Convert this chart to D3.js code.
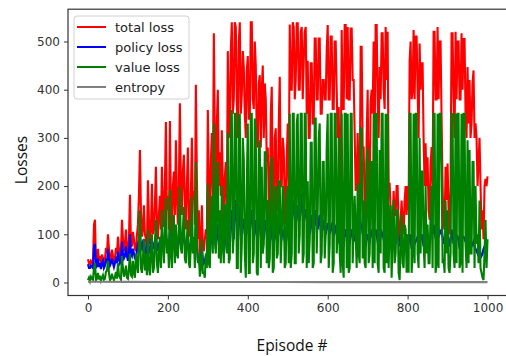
<!DOCTYPE html>
<html>
<head>
<meta charset="utf-8">
<script src="https://cdn.jsdelivr.net/npm/d3@7"></script>
<style>
  body { margin: 0; background: #fff; }
  #graph { position: relative; width: 506px; height: 356px; }
  .axis text { font-family: "DejaVu Sans", sans-serif; font-size: 12px; fill: #333; }
  .axis path, .axis line { stroke: #333; }
  .title { font-family: "Open Sans", "Noto Sans", sans-serif; font-size: 15.5px; fill: #111; }
  .legend text { font-family: "DejaVu Sans", sans-serif; font-size: 13px; fill: #222; }
</style>
</head>
<body>
<div id="graph"></div>
<script>
// one value every 2.5 episodes (about one pixel)
const STEP = 2.5;

const totalLoss = [
  48,40,38,45,42,35,120,130,40,45,70,45,55,35,58,50,42,48,72,60,
  100,70,45,50,68,55,42,50,72,60,95,70,55,60,130,90,65,80,110,70,
  60,90,182,80,75,105,90,70,65,98,120,180,275,150,95,110,160,100,90,70,
  212,130,80,110,205,100,110,160,240,120,90,140,180,110,240,170,115,200,333,150,
  180,110,335,160,95,200,230,140,295,180,120,200,372,200,140,230,265,170,110,200,
  280,130,95,180,300,170,190,120,410,220,90,150,50,80,160,70,65,90,110,100,
  358,200,95,250,310,180,517,300,140,330,400,200,270,180,316,200,105,219,250,150,
  480,300,330,480,540,350,380,540,530,380,300,500,540,350,390,480,447,350,300,440,
  470,340,340,540,540,380,360,500,450,300,280,413,430,280,400,450,300,413,380,250,
  280,175,120,350,406,180,110,300,320,150,150,330,427,200,200,300,275,160,120,260,
  330,200,535,400,400,540,530,380,420,538,538,400,400,520,530,380,460,520,530,350,
  460,300,300,455,455,330,330,506,506,380,380,506,506,350,350,420,420,380,380,482,
  534,380,380,510,510,360,360,500,500,400,300,364,200,200,524,360,360,534,534,380,
  530,380,380,527,527,420,420,310,190,205,310,200,160,489,489,280,280,150,110,300,
  400,171,150,375,400,350,500,300,534,534,380,300,447,380,517,517,400,360,530,420,
  520,205,205,150,80,120,190,140,140,200,200,110,80,130,170,120,100,170,200,140,
  200,150,460,500,380,400,524,380,510,510,400,300,496,400,455,455,300,200,289,200,
  260,150,130,240,281,200,520,520,380,380,530,380,500,500,340,200,120,110,240,171,
  247,150,100,200,517,517,380,300,520,380,500,500,380,380,517,400,505,505,350,300,
  447,330,420,300,330,413,440,300,330,300,200,250,300,200,110,150,90,200,215,200,
  220
];

const policyLoss = [
  38,30,30,35,35,28,75,80,30,35,50,32,40,28,40,45,30,35,45,40,
  70,50,35,40,50,40,32,40,48,40,65,50,40,45,85,60,50,55,75,55,
  45,60,100,60,55,70,60,50,50,65,80,90,100,75,70,85,90,70,60,55,
  95,70,60,75,90,70,75,85,100,75,65,80,85,70,100,90,70,85,105,80,
  80,70,110,85,60,80,95,80,105,85,70,90,110,80,75,95,100,80,65,85,
  95,70,60,80,100,75,80,65,110,80,45,55,35,40,70,50,40,45,55,60,
  110,80,60,90,100,80,130,95,70,100,120,85,95,80,110,90,60,80,100,85,
  120,90,75,110,150,120,90,140,171,130,80,120,160,120,100,130,130,100,109,120,
  120,100,100,130,150,120,90,110,130,100,85,110,140,120,157,130,90,110,130,110,
  100,80,70,100,130,90,80,100,110,90,90,110,120,100,95,110,100,85,80,95,
  110,120,160,130,120,150,170,140,115,150,160,130,130,160,185,140,120,150,150,130,
  120,110,100,120,140,110,90,130,150,120,110,130,140,110,95,120,130,110,100,115,
  123,110,100,115,120,105,95,110,115,100,100,90,80,100,120,95,74,100,110,95,
  120,100,80,100,110,95,100,90,85,100,109,130,150,120,120,100,110,90,75,90,
  100,90,85,100,110,95,95,100,110,100,85,90,100,95,105,100,90,95,100,95,
  120,100,90,80,70,85,100,90,80,95,110,90,75,85,95,85,70,80,100,90,
  90,85,100,90,70,80,90,80,85,90,95,85,80,90,100,90,75,90,110,95,
  100,90,85,95,110,100,120,110,90,100,120,110,100,105,110,95,80,90,95,90,
  100,90,75,85,110,100,80,90,100,90,95,90,70,85,105,95,95,90,85,90,
  110,95,90,80,75,80,85,75,70,65,60,65,65,60,55,60,70,75,80,80,
  80
];

const valueLoss = [
  5,10,3,12,8,6,30,40,5,8,20,6,14,4,10,15,6,8,22,25,
  45,20,5,8,18,10,5,12,22,8,40,15,10,6,55,30,12,20,35,10,
  8,30,60,15,12,45,20,10,60,40,20,90,150,30,20,50,90,25,60,15,
  110,30,15,60,100,20,30,80,130,40,20,60,95,30,150,80,40,100,175,60,
  90,30,192,60,30,100,140,40,120,60,50,120,198,70,60,110,157,50,40,90,
  130,40,30,80,178,60,95,30,250,90,40,60,12,30,90,20,20,10,60,30,
  205,40,30,120,180,60,330,90,60,200,250,50,150,40,200,80,40,160,160,60,
  310,40,50,330,358,60,100,350,350,30,30,340,350,20,80,300,254,60,10,200,
  330,20,20,350,350,40,60,340,310,20,15,270,295,30,240,60,80,270,270,40,
  171,30,50,220,260,20,30,190,200,50,60,210,210,40,100,200,170,30,40,180,
  200,40,350,30,60,350,350,40,40,330,350,60,100,350,350,40,60,350,350,30,
  210,40,90,290,290,30,40,340,340,60,150,300,330,40,60,250,250,50,100,280,
  350,30,80,350,350,20,40,350,350,60,100,300,60,20,350,40,10,350,350,30,
  350,20,30,350,350,40,120,180,100,30,205,60,40,320,320,50,170,40,30,250,
  280,40,60,250,250,30,350,40,350,350,40,20,275,60,350,350,30,20,350,40,
  350,30,120,160,10,100,171,40,60,150,150,20,5,80,140,40,30,120,110,20,
  100,20,350,350,20,60,350,40,350,350,60,30,300,60,230,230,80,30,200,60,
  120,40,40,150,200,30,350,350,20,40,350,30,350,350,240,40,50,20,170,60,
  150,30,20,60,350,350,60,30,350,40,350,350,30,40,350,20,350,350,80,30,
  295,40,275,60,60,250,250,30,200,80,100,40,170,30,20,10,5,60,130,30,
  90
];

// entropy is flat, read every 100 episodes
const entropyEpisodes = [0, 100, 200, 300, 400, 500, 600, 700, 800, 900, 1000];
const entropy = [1.4, 1.2, 1.1, 1.0, 0.9, 0.9, 0.8, 0.8, 0.8, 0.7, 0.7];

const xTicks = [0, 200, 400, 600, 800, 1000];
const yTicks = [0, 100, 200, 300, 400, 500];

const seriesNames = ["total loss", "policy loss", "value loss", "entropy"];
const seriesColors = ["#ff0000", "#0000ff", "#008000", "#808080"];

class LossChart {
  constructor (el) {
    this.el = el;
    this.width = 506;
    this.height = 356;
    // axes box, right edge falls just off the picture
    this.box = {left: 68, right: 507.5, top: 9.2, bottom: 295.5};
  }

  draw () {
    this.svg = d3.select(this.el).append('svg')
      .attr('width', this.width)
      .attr('height', this.height);

    this.createScales();
    this.drawLines();
    this.addAxes();
    this.addLegend();
    this.addTitles();
  }

  createScales () {
    const b = this.box;
    this.xScale = d3.scaleLinear().domain([-50, 1050]).range([b.left, b.right]);
    this.yScale = d3.scaleLinear().domain([-27, 567]).range([b.bottom, b.top]);
  }

  drawLines () {
    const b = this.box;
    this.svg.append('clipPath').attr('id', 'clip')
      .append('rect')
      .attr('x', b.left).attr('y', b.top)
      .attr('width', b.right - b.left).attr('height', b.bottom - b.top);

    const line = d3.line()
      .x((d) => this.xScale(d[0]))
      .y((d) => this.yScale(d[1]));

    const stepped = (arr) => arr.map((v, i) => [i * STEP, v]);
    const layers = [
      stepped(totalLoss),
      stepped(policyLoss),
      stepped(valueLoss),
      entropy.map((v, i) => [entropyEpisodes[i], v])
    ];

    this.svg.append('g').attr('clip-path', 'url(#clip)')
      .selectAll('path')
      .data(layers)
      .enter().append('path')
      .attr('d', line)
      .attr('fill', 'none')
      .attr('stroke', (d, i) => seriesColors[i])
      .attr('stroke-width', 2.1);
  }

  addAxes () {
    const b = this.box;
    const xAxis = d3.axisBottom(this.xScale).tickValues(xTicks)
      .tickFormat(d3.format('d'))
      .tickSize(4).tickPadding(4).tickSizeOuter(0);
    const yAxis = d3.axisLeft(this.yScale).tickValues(yTicks)
      .tickFormat(d3.format('d'))
      .tickSize(4).tickPadding(4).tickSizeOuter(0);

    const gx = this.svg.append('g').attr('class', 'x axis')
      .attr('transform', 'translate(0,' + b.bottom + ')')
      .call(xAxis);
    gx.select('.domain').remove();

    const gy = this.svg.append('g').attr('class', 'y axis')
      .attr('transform', 'translate(' + b.left + ',0)')
      .call(yAxis);
    gy.select('.domain').remove();

    this.svg.append('rect')
      .attr('x', b.left).attr('y', b.top)
      .attr('width', b.right - b.left).attr('height', b.bottom - b.top)
      .attr('fill', 'none')
      .attr('stroke', '#333')
      .attr('stroke-width', 1.2);
  }

  addLegend () {
    const g = this.svg.append('g').attr('class', 'legend');
    g.append('rect')
      .attr('x', 74).attr('y', 16)
      .attr('width', 115).attr('height', 83)
      .attr('rx', 3)
      .attr('fill', '#fff').attr('fill-opacity', 0.85)
      .attr('stroke', '#d0d0d0');

    const rows = g.selectAll('g.row')
      .data(seriesNames)
      .enter().append('g')
      .attr('class', 'row')
      .attr('transform', (d, i) => 'translate(0,' + (27 + i * 20) + ')');

    rows.append('line')
      .attr('x1', 77).attr('x2', 106)
      .attr('stroke', (d, i) => seriesColors[i])
      .attr('stroke-width', 2);

    rows.append('text')
      .attr('x', 115).attr('dy', '0.35em')
      .text((d) => d);
  }

  addTitles () {
    this.svg.append('text')
      .attr('class', 'title')
      .attr('x', 292).attr('y', 351)
      .attr('text-anchor', 'middle')
      .text('Episode #');

    this.svg.append('text')
      .attr('class', 'title')
      .attr('transform', 'translate(27,160) rotate(-90)')
      .attr('text-anchor', 'middle')
      .text('Losses');
  }
}

new LossChart('#graph').draw();
</script>
</body>
</html>
